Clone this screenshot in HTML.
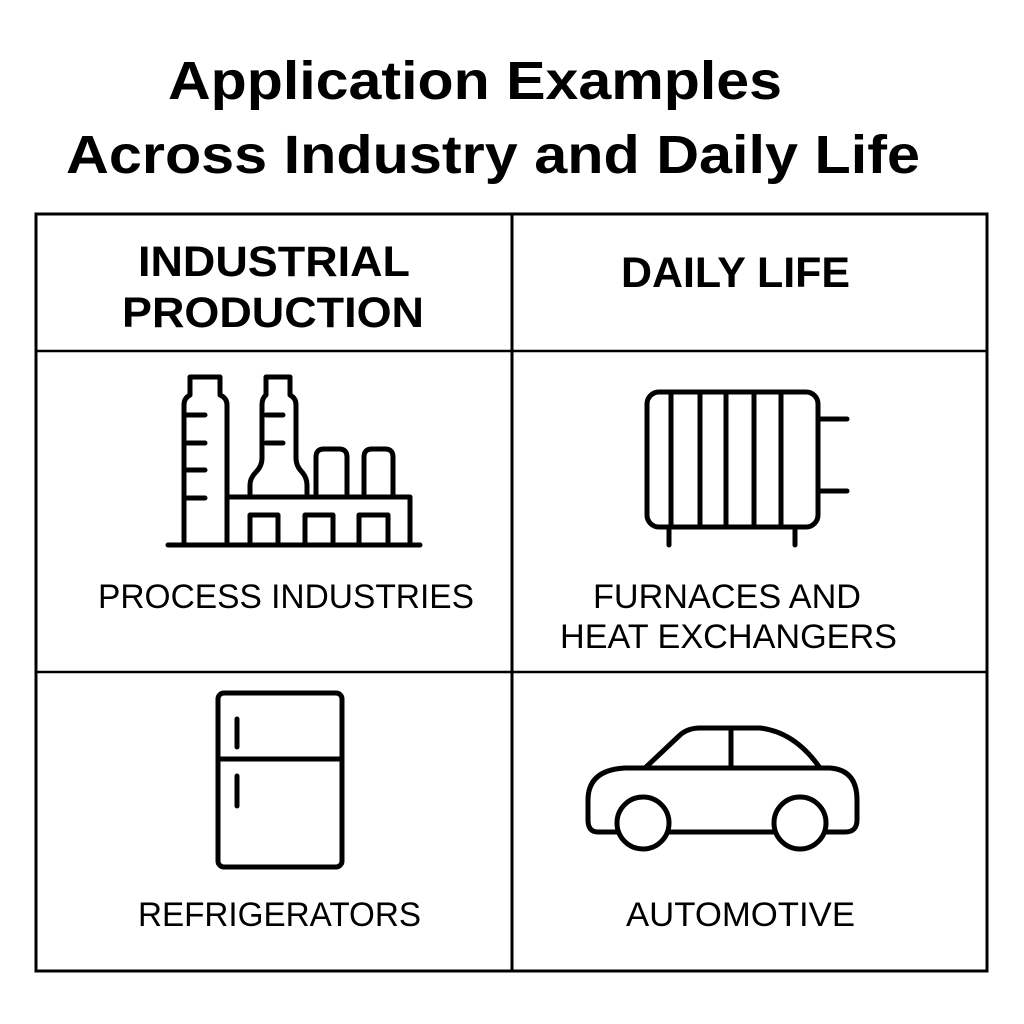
<!DOCTYPE html>
<html><head><meta charset="utf-8"><style>html,body{margin:0;padding:0;background:#fff}svg{display:block}</style></head>
<body>
<svg width="1024" height="1024" viewBox="0 0 1024 1024" xmlns="http://www.w3.org/2000/svg">
<rect width="1024" height="1024" fill="#fff"/>
<g font-family="Liberation Sans, sans-serif" fill="#000">
<text x="168" y="99" font-size="54" font-weight="bold" textLength="614" lengthAdjust="spacingAndGlyphs">Application Examples</text>
<text x="66" y="173" font-size="54" font-weight="bold" textLength="854" lengthAdjust="spacingAndGlyphs">Across Industry and Daily Life</text>
<text x="138" y="276" font-size="43" font-weight="bold" textLength="272" lengthAdjust="spacingAndGlyphs">INDUSTRIAL</text>
<text x="122" y="327" font-size="43" font-weight="bold" textLength="302" lengthAdjust="spacingAndGlyphs">PRODUCTION</text>
<text x="621" y="287" font-size="43" font-weight="bold" textLength="229" lengthAdjust="spacingAndGlyphs">DAILY LIFE</text>
<text x="98" y="608" font-size="34" textLength="376" lengthAdjust="spacingAndGlyphs">PROCESS INDUSTRIES</text>
<text x="593" y="608" font-size="34" textLength="268" lengthAdjust="spacingAndGlyphs">FURNACES AND</text>
<text x="560" y="648" font-size="34" textLength="337" lengthAdjust="spacingAndGlyphs">HEAT EXCHANGERS</text>
<text x="138" y="926" font-size="34" textLength="283" lengthAdjust="spacingAndGlyphs">REFRIGERATORS</text>
<text x="626" y="926" font-size="34" textLength="229" lengthAdjust="spacingAndGlyphs">AUTOMOTIVE</text>
</g>
<g fill="none" stroke="#000" stroke-width="3">
<rect x="36" y="214" width="951" height="757"/>
<line x1="512" y1="214" x2="512" y2="971"/>
<line x1="36" y1="351" x2="987" y2="351" stroke-width="2.5"/>
<line x1="36" y1="672" x2="987" y2="672" stroke-width="2.5"/>
</g>
<g fill="none" stroke="#000" stroke-width="5" stroke-linejoin="round" stroke-linecap="round">
<!-- factory -->
<path d="M184 545 V405 Q184 398 190 395 V377 H220 V395 Q227 398 227 405 V545"/>
<path d="M186 415 H205 M186 443 H205 M186 470 H205 M186 498 H205"/>
<path d="M250 497 V485 Q250 478 256 472 Q262 466 262 458 V405 Q262 398 266 395 V377 H290 V395 Q296 398 296 405 V458 Q296 466 302 472 Q307 478 307 485 V497"/>
<path d="M266 415 H283 M266 443 H283"/>
<path d="M316 497 V457 Q316 449 324 449 H339 Q347 449 347 457 V497"/>
<path d="M364 497 V457 Q364 449 372 449 H385 Q393 449 393 457 V497"/>
<path d="M228 497 H410 V545"/>
<path d="M250 545 V515 H278 V545 M305 545 V515 H333 V545 M359 545 V515 H388 V545"/>
<path d="M168 545 H420"/>
<!-- radiator -->
<rect x="647" y="392" width="171" height="135" rx="12"/>
<path d="M671 392 V527 M700 392 V527 M726 392 V527 M754 392 V527 M781 392 V527"/>
<path d="M818 419 H847 M818 491 H847"/>
<path d="M669 527 V545 M795 527 V545"/>
<!-- fridge -->
<rect x="218" y="693" width="124" height="174" rx="6"/>
<path d="M218 759 H342"/>
<path d="M237 719 V747 M237 776 V806"/>
<!-- car -->
<path d="M645 768 L680 735 Q688 728 700 728 H760 Q795 732 820 768"/>
<path d="M731 728 V768"/>
<path d="M618 832 H598 Q588 832 588 820 V800 Q588 770 625 768 H830 Q857 770 857 800 V820 Q857 832 845 832 H825"/>
<path d="M668 832 H775"/>
<circle cx="643" cy="823" r="26"/>
<circle cx="800" cy="823" r="26"/>
</g>
</svg>
</body></html>
